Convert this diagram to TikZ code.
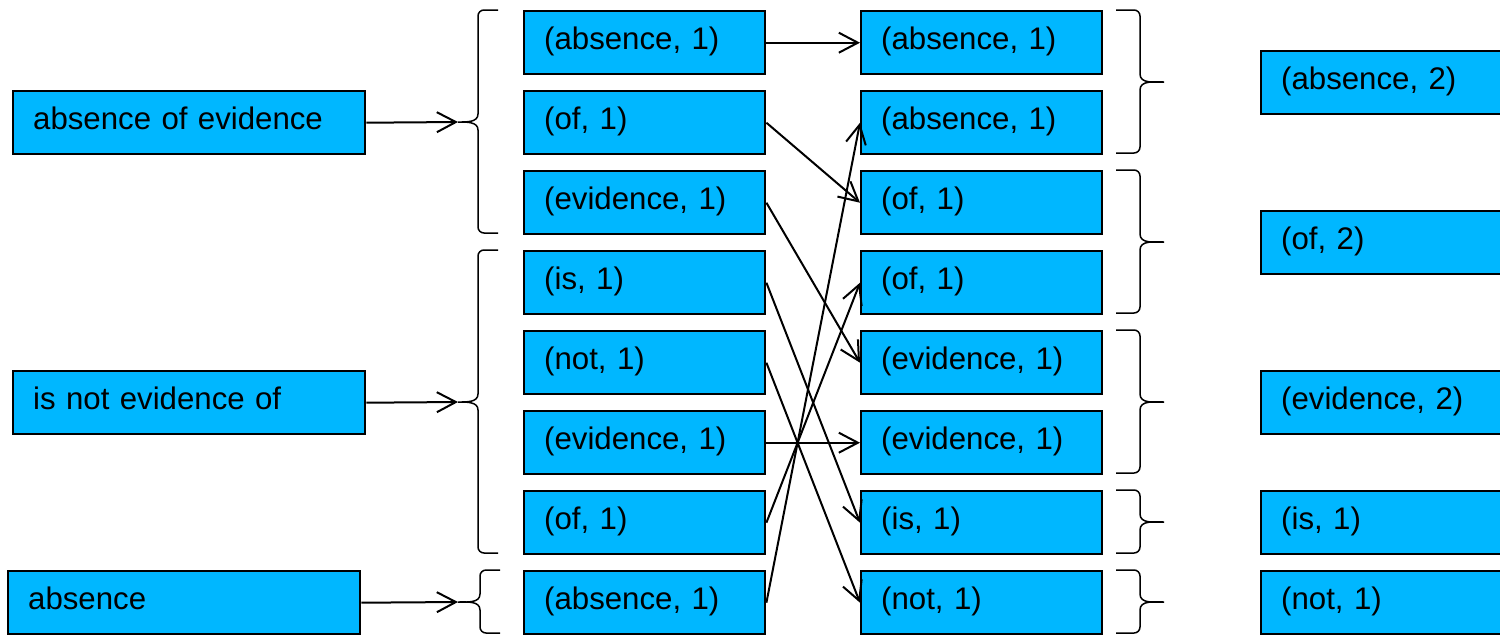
\documentclass[tikz,border=0pt]{standalone}
\usepackage{fontspec}
\setmainfont{Liberation Sans}
\usetikzlibrary{arrows.meta}
\definecolor{boxcyan}{RGB}{0,183,255}
\tikzset{
  box/.style={draw=black, line width=1.2pt, fill=boxcyan, anchor=north west,
    minimum height=31.5pt, inner xsep=10pt, inner ysep=0pt, align=left,
    text height=11pt, text depth=4pt,
    font=\fontsize{15.6}{18}\selectfont},
  wide/.style={box, text width=156pt},
  mid/.style={box, text width=100.5pt},
  right/.style={box, text width=100pt},
  conn/.style={line width=1pt, -{Straight Barb[length=9.5pt,width=10pt,line width=1pt]}},
  brace/.style={line width=0.75pt}
}
\begin{document}
\begin{tikzpicture}[x=0.5pt,y=-0.5pt]
\useasboundingbox (0,0) rectangle (1500,634);
% left column
\node[wide] (l1) at (12,90) {absence of evidence};
\node[wide] (l2) at (12,370) {is not evidence of};
\node[wide] (l3) at (7,570) {absence};
% middle column
\node[mid] (m1) at (523,10) {(absence, 1)};
\node[mid] (m2) at (523,90) {(of, 1)};
\node[mid] (m3) at (523,170) {(evidence, 1)};
\node[mid] (m4) at (523,250) {(is, 1)};
\node[mid] (m5) at (523,330) {(not, 1)};
\node[mid] (m6) at (523,410) {(evidence, 1)};
\node[mid] (m7) at (523,490) {(of, 1)};
\node[mid] (m8) at (523,570) {(absence, 1)};
% third column
\node[mid] (t1) at (860,10) {(absence, 1)};
\node[mid] (t2) at (860,90) {(absence, 1)};
\node[mid] (t3) at (860,170) {(of, 1)};
\node[mid] (t4) at (860,250) {(of, 1)};
\node[mid] (t5) at (860,330) {(evidence, 1)};
\node[mid] (t6) at (860,410) {(evidence, 1)};
\node[mid] (t7) at (860,490) {(is, 1)};
\node[mid] (t8) at (860,570) {(not, 1)};
% fourth column
\node[right] (r1) at (1260,50) {(absence, 2)};
\node[right] (r2) at (1260,210) {(of, 2)};
\node[right] (r3) at (1260,370) {(evidence, 2)};
\node[right] (r4) at (1260,490) {(is, 1)};
\node[right] (r5) at (1260,570) {(not, 1)};
% left braces
\coordinate (b1) at (458,122);
\coordinate (b2) at (458,402);
\coordinate (b3) at (458,602);
\draw[brace] (498,10) -- (484,10) to[out=180,in=90] (478,16) -- (478,114) to[out=-90,in=0] (458,122) to[out=0,in=90] (478,130) -- (478,227) to[out=-90,in=180] (484,233) -- (498,233);
\draw[brace] (498,250) -- (484,250) to[out=180,in=90] (478,256) -- (478,394) to[out=-90,in=0] (458,402) to[out=0,in=90] (478,410) -- (478,547) to[out=-90,in=180] (484,553) -- (498,553);
\draw[brace] (500,570) -- (486,570) to[out=180,in=90] (480,576) -- (480,594) to[out=-90,in=0] (458,602) to[out=0,in=90] (480,610) -- (480,627) to[out=-90,in=180] (486,633) -- (500,633);
% right braces
\draw[brace] (1116,10) -- (1134,10) to[out=0,in=90] (1140,16) -- (1140,74) to[out=-90,in=180] (1164,82) to[out=180,in=90] (1140,90) -- (1140,147) to[out=-90,in=0] (1134,153) -- (1116,153);
\draw[brace] (1116,170) -- (1134,170) to[out=0,in=90] (1140,176) -- (1140,234) to[out=-90,in=180] (1164,242) to[out=180,in=90] (1140,250) -- (1140,307) to[out=-90,in=0] (1134,313) -- (1116,313);
\draw[brace] (1116,330) -- (1134,330) to[out=0,in=90] (1140,336) -- (1140,394) to[out=-90,in=180] (1164,402) to[out=180,in=90] (1140,410) -- (1140,467) to[out=-90,in=0] (1134,473) -- (1116,473);
\draw[brace] (1116,490) -- (1134,490) to[out=0,in=90] (1140,496) -- (1140,514) to[out=-90,in=180] (1164,522) to[out=180,in=90] (1140,530) -- (1140,547) to[out=-90,in=0] (1134,553) -- (1116,553);
\draw[brace] (1116,570) -- (1134,570) to[out=0,in=90] (1140,576) -- (1140,594) to[out=-90,in=180] (1164,602) to[out=180,in=90] (1140,610) -- (1140,627) to[out=-90,in=0] (1134,633) -- (1116,633);
% input arrows
\draw[conn] (l1.east) -- (b1);
\draw[conn] (l2.east) -- (b2);
\draw[conn] (l3.east) -- (b3);
% shuffle arrows
\draw[conn] (m1.east) -- (t1.west);
\draw[conn] (m2.east) -- (t3.west);
\draw[conn] (m3.east) -- (t5.west);
\draw[conn] (m4.east) -- (t7.west);
\draw[conn] (m5.east) -- (t8.west);
\draw[conn] (m6.east) -- (t6.west);
\draw[conn] (m7.east) -- (t4.west);
\draw[conn] (m8.east) -- (t2.west);
\end{tikzpicture}
\end{document}
